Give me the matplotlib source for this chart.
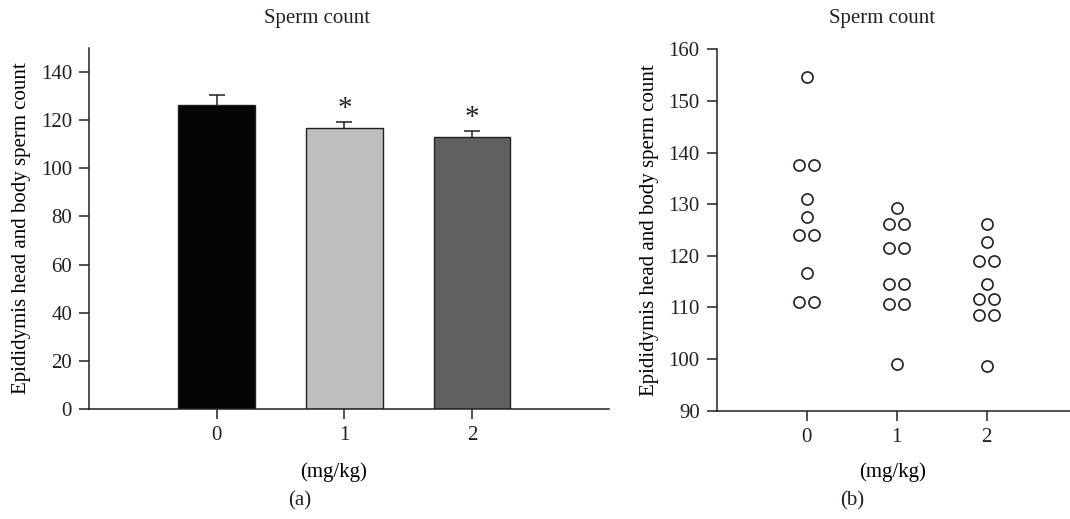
import numpy as np
import matplotlib.pyplot as plt

plt.rcParams['font.family'] = ['Liberation Serif', 'DejaVu Serif']
plt.rcParams['font.size'] = 15
plt.rcParams['text.color'] = '#231f20'
plt.rcParams['axes.edgecolor'] = '#231f20'
plt.rcParams['xtick.color'] = '#231f20'
plt.rcParams['ytick.color'] = '#231f20'

# ============================== DATA ==============================

doses = [0, 1, 2]
dose_labels = ['0', '1', '2']

# (a) group means and SEM
means = [126.4, 116.5, 112.9]
sems = [4.2, 2.7, 2.5]
signif = [False, True, True]
bar_colors = ['#050505', '#bebebe', '#5f6160']

# (b) individual animals
count_0 = [154.7, 137.6, 137.6, 131.1, 127.6, 124.0, 124.0, 116.6, 111.1, 111.1]
count_1 = [129.2, 126.1, 126.1, 121.6, 121.6, 114.6, 114.6, 110.6, 110.6, 99.1]
count_2 = [126.1, 122.6, 119.0, 119.0, 114.6, 111.6, 111.6, 108.6, 108.6, 98.6]

ylbl = 'Epididymis head and body sperm count'
xlbl = '(mg/kg)'
ttl = 'Sperm count'

# ============================== PLOT ==============================
fig = plt.figure(figsize=(10.7, 5.19), dpi=100)

def style_axes(ax):
    for s in ['top', 'right']:
        ax.spines[s].set_visible(False)
    for s in ['left', 'bottom']:
        ax.spines[s].set_linewidth(1.1)
    ax.tick_params(direction='out', length=7.2, width=1.1, pad=5)
    ax.set_xticks(doses)
    ax.set_xticklabels(dose_labels)

# ------------------------ (a) bar chart --------------------------
ax1 = fig.add_axes([0.0832, 0.2114, 0.4858, 0.6966])
ax1.bar(doses, means, width=0.6, color=bar_colors, edgecolor='#231f20', linewidth=1.0, zorder=2)
eb = ax1.errorbar(doses, means, yerr=[np.zeros(3), sems], fmt='none', ecolor='#231f20',
                  elinewidth=1.1, capsize=6, capthick=1.1, zorder=1)
eb[1][0].set_visible(False)  # upper caps only
for x, m, e, s in zip(doses, means, sems, signif):
    if s:
        ax1.text(x, m + e + 5.3, '*', ha='center', va='center', fontsize=21)
ax1.set_xlim(-1, 3.07)
ax1.set_ylim(0, 150)
ax1.set_yticks(np.arange(0, 141, 20))
style_axes(ax1)
ax1.set_ylabel(ylbl, labelpad=7)
ax1.set_xlabel(xlbl)
ax1.xaxis.set_label_coords(0.4707, -0.146)

# ------------------------ (b) scatter --------------------------
ax2 = fig.add_axes([0.6698, 0.2087, 0.3302, 0.6963])
groups = [count_0, count_1, count_2]
for x, vals in zip(doses, groups):
    vals = np.array(vals)
    xs = np.full(len(vals), float(x))
    # spread tied values side by side
    uniq, cnt = np.unique(vals, return_counts=True)
    for u, c in zip(uniq, cnt):
        idx = np.where(vals == u)[0]
        if c == 2:
            xs[idx] = x + np.array([-0.08, 0.08])
    ax2.plot(xs, vals, 'o', ms=8, mfc='white', mec='#231f20', mew=1.2, clip_on=False)
ax2.set_xlim(-1, 2.926)
ax2.set_ylim(90, 160)
ax2.set_yticks(np.arange(90, 161, 10))
style_axes(ax2)
ax2.set_ylabel(ylbl, labelpad=7)
ax2.set_xlabel(xlbl)
ax2.xaxis.set_label_coords(0.4983, -0.142)

# titles and panel labels
fig.text(0.296, 0.965, ttl, ha='center', va='center')
fig.text(0.824, 0.965, ttl, ha='center', va='center')
fig.text(0.2804, 0.035, '(a)', ha='center', va='center')
fig.text(0.796, 0.035, '(b)', ha='center', va='center')

plt.savefig('out.png', dpi=100)
